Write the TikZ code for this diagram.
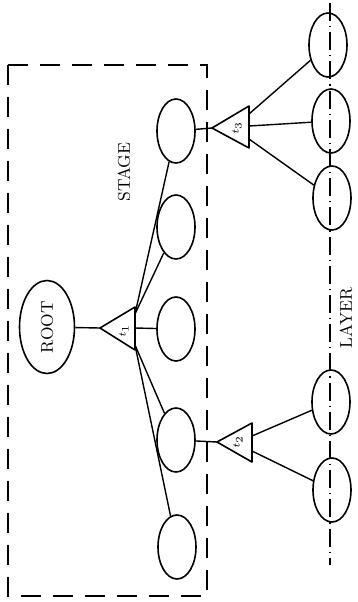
\documentclass[tikz,border=0pt]{standalone}
\usetikzlibrary{shapes.geometric}
\tikzset{
  blob/.style={ellipse,draw=black,line width=0.8pt,inner sep=0pt,minimum width=19pt,minimum height=32pt},
  wire/.style={draw=black,line width=0.7pt},
  tri/.style={draw=black,line width=0.8pt,line join=round},
  lbl/.style={rotate=90,inner sep=0pt,font=\fontsize{8.5}{10}\selectfont},
  sub/.style={rotate=90,inner sep=0pt,font=\tiny},
}
\begin{document}
\begin{tikzpicture}[x=0.5pt,y=-0.5pt]
\useasboundingbox (0,0) rectangle (358,602);
\draw[line width=0.8pt,dash pattern=on 10pt off 6pt] (8,65) rectangle (207,596);
\coordinate (ltop) at (330,3);
\coordinate (lbot) at (330,565);
\draw[line width=0.7pt,dash pattern=on 9pt off 2.5pt on 0.6pt off 2.5pt] (ltop) -- (lbot);
\node[blob,rotate=90,minimum width=46.5pt,minimum height=27.5pt,font=\fontsize{8.5}{10}\selectfont] (root) at (47,327) {ROOT};
\node[blob] (s1) at (176,131) {};
\node[blob] (s2) at (176,227) {};
\node[blob] (s3) at (176,329) {};
\node[blob] (s4) at (176,440) {};
\node[blob] (s5) at (177,547) {};
\node[blob] (l1) at (328,45) {};
\node[blob] (l2) at (331,121) {};
\node[blob] (l3) at (332,198) {};
\node[blob] (l4) at (331,402) {};
\node[blob] (l5) at (332,490) {};
\node[lbl] (stage) at (124,172) {STAGE};
\node[lbl] (layer) at (346,318) {LAYER};
\coordinate (t1a) at (100,328);
\coordinate (t1u) at (135,307);
\coordinate (t1d) at (135,350);
\coordinate (t1p) at (135,314);
\coordinate (t1m) at (135,328);
\coordinate (t1q) at (135,345);
\draw[tri] (t1a) -- (t1u) -- (t1d) -- cycle;
\node[sub] (t1l) at (124,331) {$t_1$};
\coordinate (t3a) at (212,128);
\coordinate (t3u) at (249,106);
\coordinate (t3d) at (249,148);
\coordinate (t3p) at (249,114);
\coordinate (t3m) at (249,126);
\coordinate (t3q) at (249,139);
\draw[tri] (t3a) -- (t3u) -- (t3d) -- cycle;
\node[sub] (t3l) at (237,128) {$t_3$};
\coordinate (t2a) at (217,442);
\coordinate (t2u) at (252,423);
\coordinate (t2d) at (252,462);
\coordinate (t2p) at (252,436);
\coordinate (t2q) at (252,451);
\draw[tri] (t2a) -- (t2u) -- (t2d) -- cycle;
\node[sub] (t2l) at (238,442) {$t_2$};
\draw[wire] (root) -- (t1a);
\draw[wire] (t1p) -- (s1);
\draw[wire] (t1p) -- (s2);
\draw[wire] (t1m) -- (s3);
\draw[wire] (t1q) -- (s4);
\draw[wire] (t1q) -- (s5);
\draw[wire] (s1) -- (t3a);
\draw[wire] (s4) -- (t2a);
\draw[wire] (t3p) -- (l1);
\draw[wire] (t3m) -- (l2);
\draw[wire] (t3q) -- (l3);
\draw[wire] (t2p) -- (l4);
\draw[wire] (t2q) -- (l5);
\end{tikzpicture}
\end{document}
